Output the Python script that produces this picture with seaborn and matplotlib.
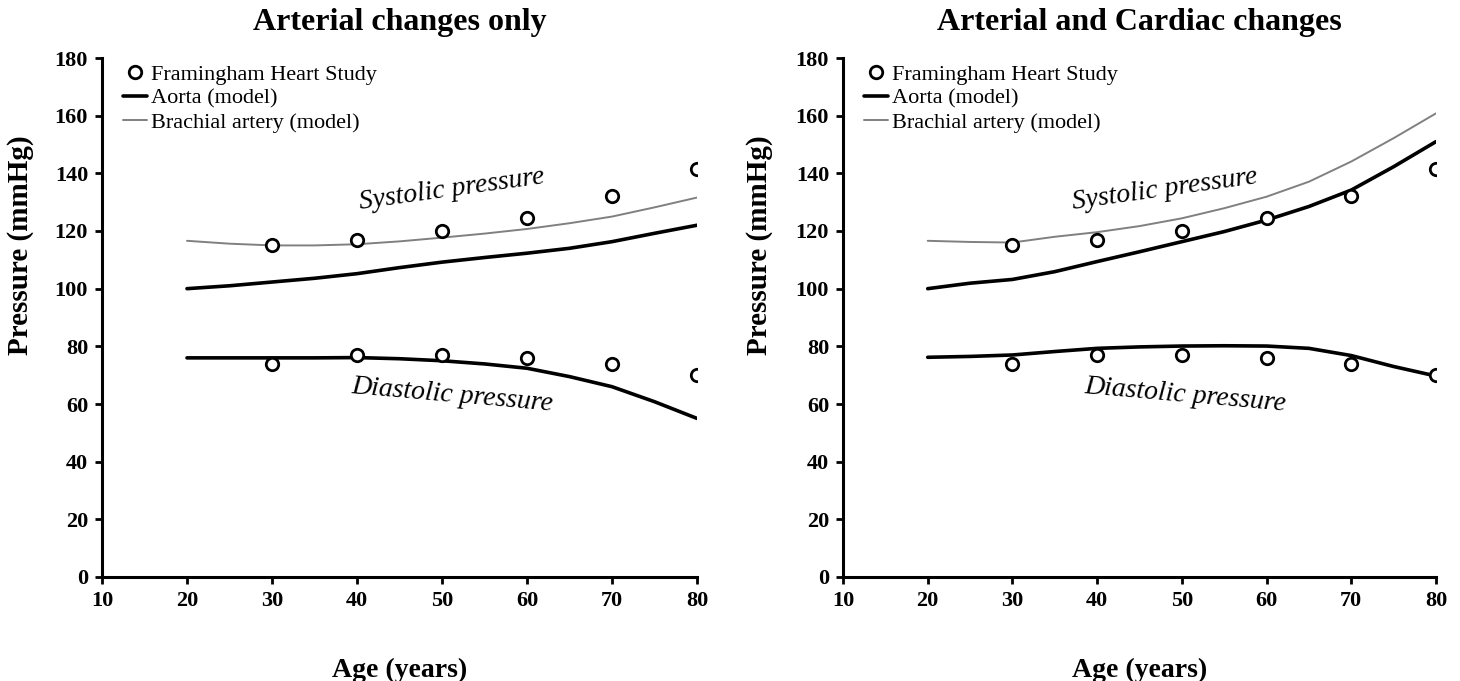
import matplotlib
matplotlib.use("Agg")
import matplotlib.pyplot as plt
import seaborn as sns
import pandas as pd
from matplotlib.lines import Line2D

sns.set_theme(style="ticks")
plt.rcParams['font.family'] = ['Liberation Serif', 'DejaVu Serif']
for k in ["text.color", "axes.labelcolor", "xtick.color", "ytick.color", "axes.edgecolor"]:
    plt.rcParams[k] = "black"

# Data
model_age = [20, 25, 30, 35, 40, 45, 50, 55, 60, 65, 70, 75, 80]
fhs_age = [30, 40, 50, 60, 70, 80]
fhs_sys = [115, 117, 120, 124.5, 132, 141.5]
fhs_dia = [74, 77, 77, 76, 74, 70]

left_aorta_sys = [100, 101, 102.3, 103.6, 105.2, 107.3, 109.2, 110.8, 112.3, 114.0, 116.3, 119.2, 122]
left_brach_sys = [116.6, 115.6, 115, 115, 115.4, 116.4, 117.7, 119.1, 120.7, 122.7, 125.0, 128.2, 131.6]
left_aorta_dia = [76, 76, 76, 76, 76.1, 75.7, 75, 73.9, 72.4, 69.5, 66, 60.8, 55]

right_aorta_sys = [100, 101.9, 103.2, 105.9, 109.4, 112.8, 116.3, 119.8, 123.8, 128.5, 134.2, 142.3, 151]
right_brach_sys = [116.6, 116.2, 116.0, 118.0, 119.6, 121.7, 124.4, 127.9, 131.9, 137.1, 144.1, 152.2, 160.8]
right_aorta_dia = [76.2, 76.5, 77.0, 78.2, 79.3, 79.8, 80.1, 80.2, 80.1, 79.3, 76.8, 73.0, 69.7]

titles = ["Arterial changes only", "Arterial and Cardiac changes"]
x_ticks = [10, 20, 30, 40, 50, 60, 70, 80]
y_ticks = [0, 20, 40, 60, 80, 100, 120, 140, 160, 180]

fig = plt.figure(figsize=(14.6, 6.81), dpi=100)
ax1 = fig.add_axes([102/1460, 1-577/681, (697-102)/1460, (577-58)/681])
ax2 = fig.add_axes([843/1460, 1-577/681, (1436-843)/1460, (577-58)/681])

panels = [
    (ax1, left_aorta_sys, left_brach_sys, left_aorta_dia, (51.2, 134.5, 8), (51.2, 63.0, -5), -0.114),
    (ax2, right_aorta_sys, right_brach_sys, right_aorta_dia, (48.0, 134.5, 8), (50.4, 63.0, -5), -0.118),
]

for i, (ax, a_sys, b_sys, a_dia, sys_txt, dia_txt, ylx) in enumerate(panels):
    dfm = pd.DataFrame({"age": model_age, "a_sys": a_sys, "b_sys": b_sys, "a_dia": a_dia})
    dff = pd.DataFrame({"age": fhs_age, "sys": fhs_sys, "dia": fhs_dia})
    sns.lineplot(data=dfm, x="age", y="b_sys", ax=ax, color="#808080", lw=1.4)
    sns.lineplot(data=dfm, x="age", y="a_sys", ax=ax, color="black", lw=2.6)
    sns.lineplot(data=dfm, x="age", y="a_dia", ax=ax, color="black", lw=2.6)
    for col in ["sys", "dia"]:
        sns.scatterplot(data=dff, x="age", y=col, ax=ax, marker="o", s=80,
                        facecolor="white", edgecolor="black", linewidth=2, zorder=5)
    ax.set_xlim(10, 80)
    ax.set_ylim(0, 180)
    ax.set_xticks(x_ticks)
    ax.set_yticks(y_ticks)
    ax.tick_params(axis="both", labelsize=16, width=2, length=5, direction="out", pad=5)
    for lab in ax.get_xticklabels() + ax.get_yticklabels():
        lab.set_fontweight("bold")
    for s in ["top", "right"]:
        ax.spines[s].set_visible(False)
    for s in ["left", "bottom"]:
        ax.spines[s].set_linewidth(2.2)
    ax.set_xlabel("Age (years)", fontsize=20, fontweight="bold", labelpad=34)
    ax.set_ylabel("Pressure (mmHg)", fontsize=21, fontweight="bold")
    ax.yaxis.set_label_coords(ylx, 0.64)
    ax.set_title(titles[i], fontsize=23, fontweight="bold", pad=20)
    ax.text(sys_txt[0], sys_txt[1], "Systolic pressure", fontsize=20, style="italic",
            rotation=sys_txt[2], ha="center", va="center")
    ax.text(dia_txt[0], dia_txt[1], "Diastolic pressure", fontsize=20, style="italic",
            rotation=dia_txt[2], ha="center", va="center")
    handles = [
        Line2D([], [], ls="none", marker="o", markersize=9, markerfacecolor="white",
               markeredgecolor="black", markeredgewidth=2),
        Line2D([], [], color="black", lw=2.6),
        Line2D([], [], color="#808080", lw=1.4),
    ]
    ax.legend(handles, ["Framingham Heart Study", "Aorta (model)", "Brachial artery (model)"],
              loc="upper left", bbox_to_anchor=(0.02, 1.005), frameon=False, fontsize=16,
              handlelength=1.1, handletextpad=0.15, labelspacing=0.15, borderaxespad=0)

fig.savefig("out.png", dpi=100)
